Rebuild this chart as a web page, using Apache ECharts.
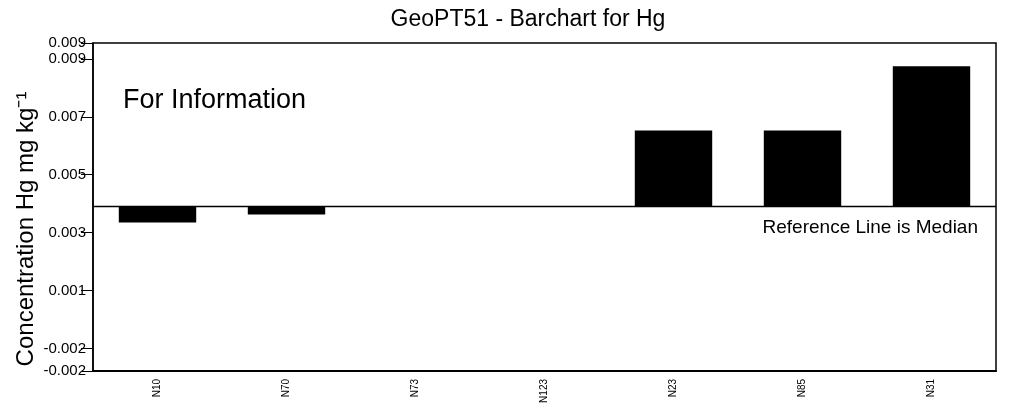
<!DOCTYPE html>
<html>
<head>
<meta charset="utf-8">
<script src="https://cdn.jsdelivr.net/npm/echarts@6/dist/echarts.min.js"></script>
<style>
html,body{margin:0;padding:0;background:#fff;}
#c{width:1010px;height:413px;}
</style>
</head>
<body>
<div id="c"></div>
<script>
var categories = ['N10', 'N70', 'N73', 'N123', 'N23', 'N85', 'N31'];
var values = [0.00285, 0.00313, 0.0034, 0.0034, 0.00603, 0.00603, 0.00825];
var median = 0.0034;
var axisMin = -0.00228;
var axisMax = 0.00905;
var tickValues = [-0.00228, -0.0015, 0.0005, 0.0025, 0.0045, 0.0065, 0.0085, 0.00905];
var tickLabels = ['-0.002', '-0.002', '0.001', '0.003', '0.005', '0.007', '0.009', '0.009'];

var FONT = 'Liberation Sans, Arial, sans-serif';
var chart = echarts.init(document.getElementById('c'), null, {renderer: 'canvas'});

var baseData = categories.map(function () { return median; });
var deltaData = values.map(function (v) { return v - median; });

chart.setOption({
  animation: false,
  backgroundColor: '#fff',
  title: {
    text: 'GeoPT51 - Barchart for Hg',
    left: 523, top: 3, textAlign: 'center',
    textStyle: {fontFamily: FONT, fontSize: 23, fontWeight: 'normal', color: '#000'}
  },
  grid: {left: 93, right: 14, top: 43, bottom: 42, show: true, borderColor: '#000', borderWidth: 1.5, containLabel: false},
  xAxis: [{
    type: 'category', data: categories,
    axisLine: {show: true, onZero: false, lineStyle: {color: '#000', width: 2}},
    axisTick: {show: false},
    axisLabel: {rotate: 90, fontFamily: FONT, fontSize: 10, color: '#000', margin: 8}
  }, {
    type: 'value', min: 0, max: 1, show: false
  }],
  yAxis: {
    type: 'value', min: axisMin, max: axisMax,
    splitLine: {show: false},
    axisLine: {show: true, onZero: false, lineStyle: {color: '#000', width: 1.5}},
    axisTick: {show: true, inside: false, length: 12, customValues: tickValues, lineStyle: {color: '#000', width: 1}},
    axisLabel: {
      customValues: tickValues, fontFamily: FONT, fontSize: 15, color: '#000', margin: 7,
      formatter: function (v) {
        var best = 0, bd = Infinity;
        for (var i = 0; i < tickValues.length; i++) {
          var d = Math.abs(tickValues[i] - v);
          if (d < bd) { bd = d; best = i; }
        }
        return tickLabels[best];
      }
    }
  },
  series: [
    {
      type: 'bar', stack: 'h', stackStrategy: 'all', data: baseData, barWidth: '60%',
      itemStyle: {color: 'rgba(0,0,0,0)'}, silent: true
    },
    {
      type: 'bar', stack: 'h', stackStrategy: 'all', data: deltaData, barWidth: '60%',
      itemStyle: {color: '#000'}
    },
    {
      type: 'line', xAxisIndex: 1, silent: true, symbol: 'none',
      data: [[0, median], [1, median]],
      lineStyle: {color: '#000', width: 1.5}
    }
  ],
  graphic: [
    {type: 'text', left: 123, top: 87, style: {text: 'For Information', font: '27px ' + FONT, fill: '#000'}},
    {type: 'text', right: 32, top: 218, style: {text: 'Reference Line is Median', font: '19px ' + FONT, fill: '#000'}},
    {type: 'text', x: 26, y: 229, rotation: Math.PI / 2,
     style: {text: 'Concentration Hg mg kg\u207B\u00B9', font: '24px ' + FONT, fill: '#000', align: 'center', verticalAlign: 'middle'}}
  ]
});
</script>
</body>
</html>
